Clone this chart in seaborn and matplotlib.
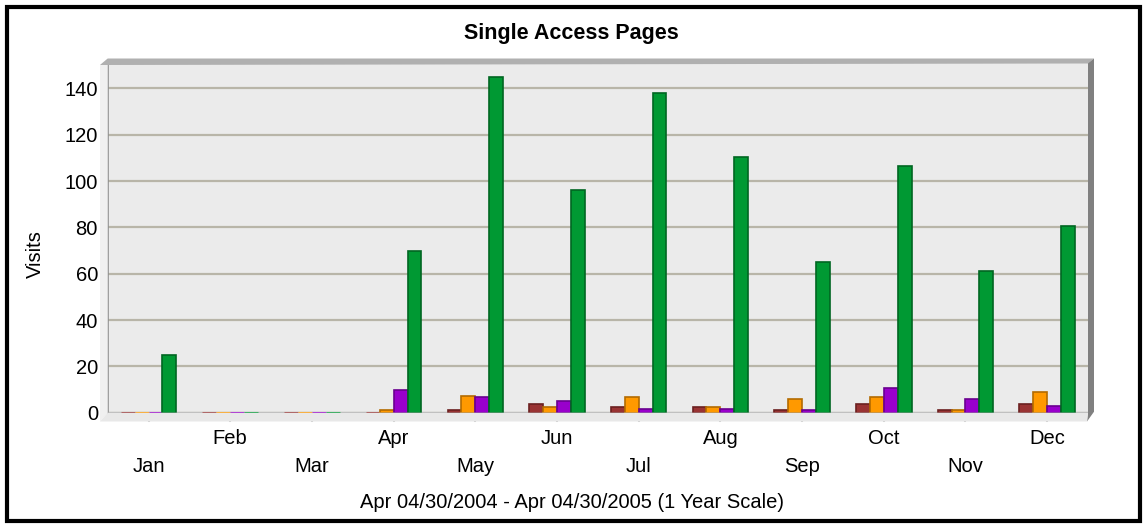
import pandas as pd
import seaborn as sns
import matplotlib.pyplot as plt
from matplotlib.patches import Polygon, Rectangle

# Chart data
months = ['Jan', 'Feb', 'Mar', 'Apr', 'May', 'Jun', 'Jul', 'Aug', 'Sep', 'Oct', 'Nov', 'Dec']
series_names = ['Series A', 'Series B', 'Series C', 'Series D']
series_a = [0, 0, 0, 0, 1.1, 3.7, 2.6, 2.6, 1.2, 3.7, 1.0, 3.7]
series_b = [0, 0, 0, 1.0, 7.4, 2.6, 6.8, 2.6, 6.0, 6.8, 1.0, 9.1]
series_c = [0, 0, 0, 10.0, 6.8, 5.2, 1.8, 1.8, 1.2, 10.8, 6.0, 2.7]
series_d = [25, 0, 0, 70, 145, 96, 138, 110.5, 65, 106.5, 61, 80.5]
y_ticks = [0, 20, 40, 60, 80, 100, 120, 140]

colors = ['#993333', '#ff9900', '#9900cc', '#009933']
edge_colors = ['#6b2020', '#b36b00', '#6a008f', '#006622']

# Long-form table for seaborn
df = pd.DataFrame({
    'Month': months * 4,
    'Visits': series_a + series_b + series_c + series_d,
    'Series': sum([[n] * len(months) for n in series_names], []),
})

sns.set_style('white')
plt.rcParams['font.family'] = ['Liberation Sans', 'DejaVu Sans']
plt.rcParams['text.color'] = 'black'
plt.rcParams['xtick.color'] = 'black'
plt.rcParams['ytick.color'] = 'black'

W, H = 1143, 527
fig = plt.figure(figsize=(W / 100, H / 100), dpi=100)

# axes box in pixels (left, top, right, bottom)
L, T, R, B = 107.7, 63.3, 1088.0, 412.7
ax = fig.add_axes([L / W, 1 - B / H, (R - L) / W, (B - T) / H])
ax.set_facecolor('#ebebeb')


def px(x, y):
    # pixel coords (from top-left) -> figure fraction
    return (x / W, 1 - y / H)


# 3D-ish decoration: left wall, top band, right wall, floor
deco = [
    ([(100, 65), (L, 59), (L, B), (100, 421.5)], '#f0f0f0'),
    ([(100, 65), (L, 58.5), (R + 6, 58.5), (R, 63.5)], '#b0b0b0'),
    ([(R, 63.3), (R + 6, 58.5), (R + 6, B - 1), (R - 1, 421.5), (R, B)], '#808080'),
    ([(100, 421.5), (L, B), (R, B), (R - 1, 421.5)], '#e8e8e8'),
]
for pts, c in deco:
    fig.patches.append(Polygon([px(*p) for p in pts], closed=True, facecolor=c,
                               edgecolor='none', transform=fig.transFigure, zorder=0))

sns.barplot(data=df, x='Month', y='Visits', hue='Series', hue_order=series_names,
            order=months, palette=colors, saturation=1, width=0.68, ax=ax,
            legend=False, zorder=3)

for cont, ec, fc in zip(ax.containers, edge_colors, colors):
    for bar in cont:
        if bar.get_height() == 0:
            # empty months show as a thin coloured strip on the floor
            bar.set_edgecolor(fc)
            bar.set_linewidth(2.2)
        else:
            bar.set_edgecolor(ec)
            bar.set_linewidth(1.2)

ax.set_xlim(-0.5, len(months) - 0.5)
ax.set_ylim(0, 150.8)
ax.set_yticks(y_ticks)
ax.yaxis.grid(True, color='#b8b5a8', linewidth=1.6)
ax.set_axisbelow(True)
for s in ['top', 'right', 'bottom']:
    ax.spines[s].set_visible(False)
ax.spines['left'].set_color('#909090')
ax.spines['left'].set_linewidth(1.2)
ax.axhline(0, color='#b0b0b0', linewidth=1.6, zorder=2)

ax.tick_params(axis='y', length=5, width=1.2, color='#b8b5a8', labelsize=14.5, pad=2)
ax.tick_params(axis='x', direction='in', length=0, labelsize=14.5)
ax.set_xlabel('')
ax.set_ylabel('')

# alternate the month labels on two rows
for i, tick in enumerate(ax.xaxis.get_major_ticks()):
    tick.set_pad(32 if i % 2 == 0 else 12)

# tick marks down through the floor
for i in range(len(months)):
    ax.plot([i, i], [0, -8 / 349.4 * 150.8], color='#b0b0b0', linewidth=1.5,
            clip_on=False, zorder=1)

fig.text(0.5, 1 - 33 / H, 'Single Access Pages', ha='center', va='center',
         fontsize=15.5, fontweight='bold')
fig.text(35 / W, 1 - 254 / H, 'Visits', ha='center', va='center',
         rotation=90, fontsize=14.5)
fig.text(0.5, 1 - 503 / H, 'Apr 04/30/2004 - Apr 04/30/2005 (1 Year Scale)',
         ha='center', va='center', fontsize=14.5)

# black frame around the whole chart
fig.patches.append(Rectangle(px(7, 521), 1133 / W, 514 / H, fill=False,
                             edgecolor='black', linewidth=3,
                             transform=fig.transFigure, zorder=5))

plt.savefig('out.png', dpi=100)
